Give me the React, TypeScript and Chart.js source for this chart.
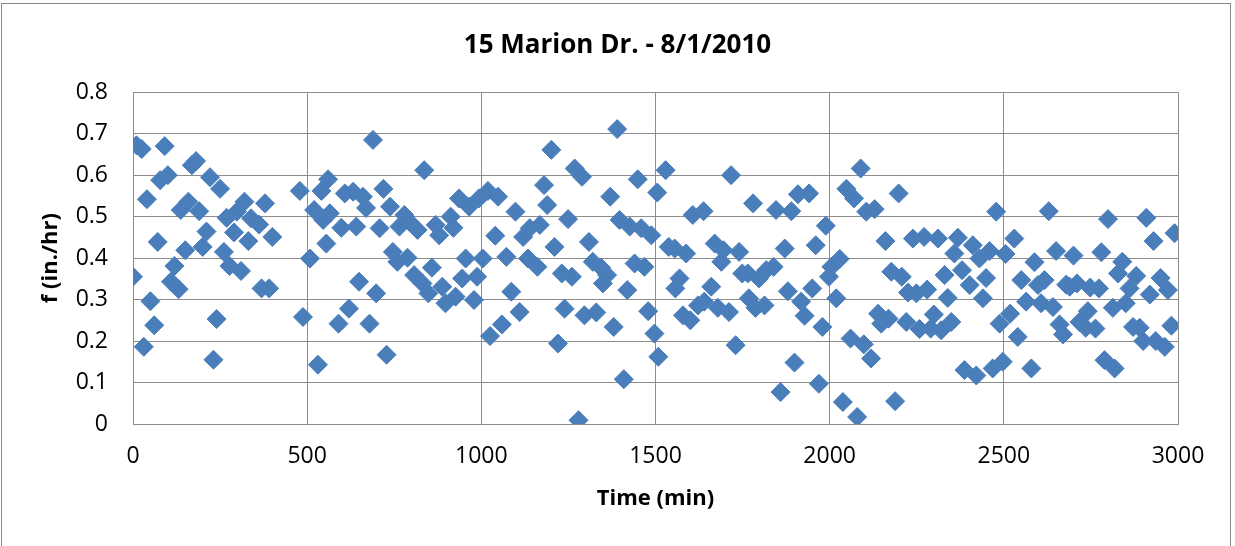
import React, { useEffect, useRef } from "react";
import { Chart, registerables } from "chart.js";

Chart.register(...registerables);

const chartTitle = "15 Marion Dr. - 8/1/2010";
const xAxisTitle = "Time (min)";
const yAxisTitle = "f (in./hr)";

const xTickValues = [0, 500, 1000, 1500, 2000, 2500, 3000];
const yTickValues = [0, 0.1, 0.2, 0.3, 0.4, 0.5, 0.6, 0.7, 0.8];

const timeMin = [
  0, 10, 25, 31, 40, 50, 61, 71, 78, 91, 100, 109, 119, 131, 137, 150, 159, 169, 181, 190,
  200, 211, 221, 231, 240, 250, 261, 269, 277, 290, 298, 310, 320, 331, 339, 362, 369, 379, 391, 400,
  479, 488, 508, 520, 531, 541, 546, 555, 560, 565, 590, 598, 608, 620, 632, 641, 649, 660, 669, 679,
  689, 698, 708, 719, 728, 738, 746, 759, 765, 779, 788, 793, 807, 817, 831, 836, 848, 858, 869, 879,
  888, 897, 912, 920, 926, 936, 945, 955, 965, 979, 988, 993, 1004, 1019, 1025, 1040, 1048, 1059, 1072, 1086,
  1098, 1110, 1120, 1134, 1139, 1161, 1168, 1180, 1189, 1201, 1210, 1220, 1231, 1239, 1249, 1260, 1268, 1279, 1289, 1296,
  1309, 1320, 1330, 1344, 1349, 1361, 1370, 1380, 1390, 1397, 1409, 1419, 1426, 1440, 1449, 1459, 1468, 1479, 1488, 1497,
  1505, 1508, 1529, 1538, 1555, 1557, 1569, 1579, 1588, 1600, 1607, 1622, 1638, 1640, 1660, 1670, 1679, 1689, 1695, 1711,
  1717, 1730, 1740, 1749, 1765, 1768, 1780, 1787, 1797, 1813, 1818, 1839, 1846, 1859, 1871, 1880, 1890, 1899, 1909, 1918,
  1928, 1941, 1950, 1960, 1969, 1979, 1989, 1998, 2005, 2019, 2029, 2038, 2048, 2060, 2070, 2079, 2089, 2098, 2105, 2119,
  2129, 2139, 2148, 2160, 2169, 2177, 2188, 2198, 2207, 2220, 2225, 2239, 2249, 2258, 2271, 2280, 2290, 2299, 2311, 2320,
  2330, 2339, 2349, 2358, 2368, 2380, 2387, 2402, 2411, 2421, 2430, 2440, 2449, 2459, 2468, 2478, 2488, 2497, 2505, 2518,
  2530, 2540, 2550, 2564, 2579, 2588, 2598, 2607, 2617, 2629, 2641, 2650, 2660, 2670, 2679, 2689, 2700, 2710, 2717, 2735,
  2741, 2748, 2763, 2773, 2780, 2789, 2799, 2813, 2818, 2828, 2840, 2850, 2861, 2871, 2880, 2890, 2900, 2909, 2919, 2930,
  2936, 2950, 2962, 2971, 2981, 2990,
];

const infiltration = [
  0.355, 0.672, 0.663, 0.186, 0.542, 0.296, 0.238, 0.439, 0.588, 0.670, 0.600, 0.343, 0.381, 0.325, 0.516, 0.419, 0.536, 0.624, 0.634, 0.513,
  0.427, 0.464, 0.595, 0.155, 0.253, 0.567, 0.415, 0.497, 0.381, 0.462, 0.512, 0.369, 0.536, 0.441, 0.496, 0.481, 0.327, 0.532, 0.327, 0.451,
  0.562, 0.258, 0.399, 0.516, 0.143, 0.562, 0.492, 0.435, 0.590, 0.508, 0.242, 0.473, 0.556, 0.278, 0.560, 0.476, 0.343, 0.548, 0.521, 0.242,
  0.685, 0.315, 0.472, 0.567, 0.167, 0.524, 0.415, 0.391, 0.476, 0.504, 0.401, 0.488, 0.359, 0.468, 0.339, 0.612, 0.315, 0.377, 0.480, 0.455,
  0.331, 0.291, 0.500, 0.473, 0.307, 0.544, 0.351, 0.399, 0.524, 0.299, 0.355, 0.544, 0.399, 0.562, 0.212, 0.454, 0.548, 0.240, 0.403, 0.319,
  0.512, 0.270, 0.451, 0.399, 0.472, 0.379, 0.480, 0.576, 0.528, 0.661, 0.427, 0.194, 0.363, 0.278, 0.494, 0.355, 0.616, 0.009, 0.596, 0.262,
  0.439, 0.391, 0.269, 0.377, 0.339, 0.359, 0.548, 0.234, 0.711, 0.492, 0.108, 0.323, 0.476, 0.387, 0.590, 0.472, 0.379, 0.272, 0.455, 0.218,
  0.558, 0.162, 0.612, 0.427, 0.423, 0.327, 0.351, 0.262, 0.411, 0.250, 0.504, 0.286, 0.513, 0.295, 0.331, 0.435, 0.280, 0.391, 0.419, 0.270,
  0.600, 0.190, 0.415, 0.363, 0.363, 0.303, 0.532, 0.280, 0.351, 0.286, 0.371, 0.379, 0.516, 0.077, 0.423, 0.320, 0.513, 0.148, 0.554, 0.295,
  0.261, 0.556, 0.327, 0.431, 0.097, 0.234, 0.478, 0.355, 0.379, 0.303, 0.398, 0.053, 0.567, 0.206, 0.544, 0.017, 0.616, 0.192, 0.512, 0.158,
  0.518, 0.266, 0.242, 0.441, 0.254, 0.367, 0.055, 0.556, 0.355, 0.246, 0.317, 0.447, 0.315, 0.229, 0.451, 0.324, 0.230, 0.264, 0.447, 0.226,
  0.359, 0.304, 0.246, 0.411, 0.449, 0.371, 0.130, 0.335, 0.431, 0.117, 0.399, 0.303, 0.352, 0.417, 0.134, 0.512, 0.242, 0.150, 0.410, 0.266,
  0.447, 0.210, 0.347, 0.295, 0.134, 0.390, 0.335, 0.291, 0.347, 0.513, 0.282, 0.417, 0.240, 0.216, 0.336, 0.331, 0.406, 0.339, 0.246, 0.232,
  0.272, 0.329, 0.230, 0.327, 0.414, 0.154, 0.494, 0.280, 0.134, 0.363, 0.391, 0.291, 0.327, 0.234, 0.357, 0.232, 0.200, 0.497, 0.312, 0.441,
  0.200, 0.352, 0.186, 0.323, 0.237, 0.460,
];

const FONT = "'Open Sans', 'DejaVu Sans', sans-serif";
const GRID = "#8c8c8c";
const MARKER = "#4a7ebb";

export default function App() {
  const canvasRef = useRef<HTMLCanvasElement | null>(null);

  useEffect(() => {
    const canvas = canvasRef.current;
    if (!canvas) return;
    const points = timeMin.map((t, i) => ({ x: t, y: infiltration[i] }));
    const chart = new Chart(canvas, {
      type: "scatter",
      data: {
        datasets: [
          {
            data: points,
            xAxisID: "x",
            yAxisID: "y",
            pointStyle: "rectRot",
            pointRadius: 9.5,
            pointHoverRadius: 9.5,
            pointBackgroundColor: MARKER,
            pointBorderColor: MARKER,
            pointBorderWidth: 1,
            showLine: false,
          },
        ],
      },
      options: {
        responsive: false,
        animation: false,
        devicePixelRatio: 1,
        layout: { padding: { left: 0, right: 0, top: 0, bottom: 0 } },
        plugins: {
          legend: { display: false },
          tooltip: { enabled: false },
          title: {
            display: true,
            text: chartTitle,
            color: "#000",
            font: { family: FONT, size: 26, weight: "bold" },
            padding: { top: 30, bottom: 31 },
          },
        },
        scales: {
          x: {
            type: "linear",
            min: 0,
            max: 3000,
            afterBuildTicks: (axis: any) => {
              axis.ticks = xTickValues.map((v) => ({ value: v }));
            },
            afterFit: (axis: any) => {
              axis.height = 122;
            },
            grid: { color: GRID, lineWidth: 1, drawTicks: false },
            border: { color: GRID, width: 1 },
            ticks: {
              color: "#000",
              padding: 19,
              maxRotation: 0,
              font: { family: FONT, size: 23 },
              callback: (v: any) => String(v),
            },
            title: {
              display: true,
              text: xAxisTitle,
              color: "#000",
              font: { family: FONT, size: 22, weight: "bold" },
              padding: { top: 0, bottom: 34 },
            },
          },
          y: {
            type: "linear",
            position: "left",
            min: 0,
            max: 0.8,
            afterBuildTicks: (axis: any) => {
              axis.ticks = yTickValues.map((v) => ({ value: v }));
            },
            afterFit: (axis: any) => {
              axis.width = 133;
            },
            grid: { color: GRID, lineWidth: 1, drawTicks: false },
            border: { color: GRID, width: 1 },
            ticks: {
              color: "#000",
              padding: 25,
              font: { family: FONT, size: 23 },
              callback: (v: any) => String(Math.round(Number(v) * 10) / 10),
            },
            title: {
              display: true,
              text: yAxisTitle,
              color: "#000",
              font: { family: FONT, size: 22, weight: "bold" },
              padding: { top: 38, bottom: 0 },
            },
          },
          yRight: {
            type: "linear",
            position: "right",
            min: 0,
            max: 0.8,
            afterFit: (axis: any) => {
              axis.width = 57;
            },
            grid: { display: false, drawTicks: false },
            border: { display: false },
            ticks: { display: false },
            title: { display: false },
          },
        },
      },
    });
    return () => chart.destroy();
  }, []);

  return (
    <div style={{ position: "absolute", left: 0, top: 0, width: 1235, height: 546, background: "#fff", overflow: "hidden" }}>
      <canvas ref={canvasRef} width={1235} height={546} style={{ position: "absolute", left: 0, top: 0, width: 1235, height: 546 }} />
      <div
        style={{
          position: "absolute",
          left: 1,
          top: 3,
          width: 1230,
          height: 600,
          boxSizing: "border-box",
          border: "1px solid #8a8a8a",
          pointerEvents: "none",
        }}
      />
    </div>
  );
}
